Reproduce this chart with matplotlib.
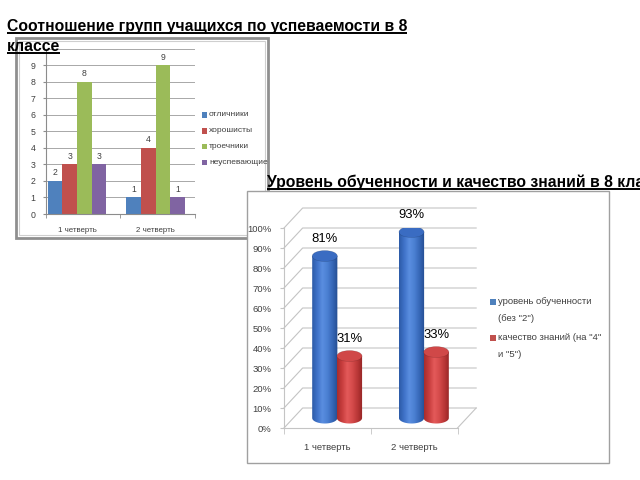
import numpy as np
import matplotlib
matplotlib.use('Agg')
import matplotlib.pyplot as plt
from matplotlib.patches import Rectangle, Ellipse, PathPatch
from matplotlib.path import Path
from matplotlib.colors import LinearSegmentedColormap
from matplotlib import font_manager

# ---------------- data ----------------
title1_lines = ['Соотношение групп учащихся по успеваемости в 8', 'классе']
title2 = 'Уровень обученности и качество знаний в 8 класса'

quarters = ['1 четверть', '2 четверть']
groups1 = ['отличники', 'хорошисты', 'троечники', 'неуспевающие']
otlichniki = [2, 1]
horoshisty = [3, 4]
troechniki = [8, 9]
neuspevayushchie = [3, 1]
yticks1 = [0, 1, 2, 3, 4, 5, 6, 7, 8, 9]

series2 = ['уровень обученности\n(без "2")', 'качество знаний (на "4"\nи "5")']
obuchennost = [81, 93]
kachestvo = [31, 33]
yticks2 = [0, 10, 20, 30, 40, 50, 60, 70, 80, 90, 100]

# ---------------- setup ----------------
names = {f.name for f in font_manager.fontManager.ttflist}
NARROW = 'Liberation Sans Narrow' if 'Liberation Sans Narrow' in names else 'Liberation Sans'
SC = 1.0 if NARROW == 'Liberation Sans Narrow' else 0.85
plt.rcParams['font.family'] = [NARROW, 'DejaVu Sans']

W, H = 640, 480
fig = plt.figure(figsize=(6.4, 4.8), dpi=100)
fig.patch.set_facecolor('white')


def px_axes(x0, y0, x1, y1, z):
    return fig.add_axes([x0 / W, 1 - y1 / H, (x1 - x0) / W, (y1 - y0) / H], zorder=z)


def overlay(z):
    a = fig.add_axes([0, 0, 1, 1], zorder=z)
    a.set_xlim(0, W)
    a.set_ylim(H, 0)
    a.axis('off')
    a.patch.set_visible(False)
    return a

# ---------------- chart 1 ----------------
ovA = overlay(0)
ovA.add_patch(Rectangle((16, 38), 252, 200, fill=False, ec='#8f8f8f', lw=2.0))
ovA.add_patch(Rectangle((19, 41), 246, 194, fill=False, ec='#cfcfcf', lw=0.8))

ax1 = px_axes(46, 48.5, 195, 214, 1)
ax1.patch.set_visible(False)
cols1 = ['#4F81BD', '#C0504D', '#9BBB59', '#8064A2']
data1 = [otlichniki, horoshisty, troechniki, neuspevayushchie]
x = np.arange(len(quarters))
w = 0.185
for i, (vals, c) in enumerate(zip(data1, cols1)):
    bars = ax1.bar(x + (i - 1.5) * w, vals, w, color=c, edgecolor='none', zorder=2)
    ax1.bar_label(bars, padding=2.5, fontsize=6.2, color='#404040')
ax1.set_xlim(-0.395, 1.503)
ax1.set_ylim(0, 10)
ax1.set_yticks(yticks1 + [10])
ax1.set_yticklabels([str(v) for v in yticks1] + [''])
ax1.grid(axis='y', color='#a8a8a8', lw=0.7)
ax1.set_axisbelow(True)
for s in ['top', 'right']:
    ax1.spines[s].set_visible(False)
for s in ['left', 'bottom']:
    ax1.spines[s].set_color('#8c8c8c')
    ax1.spines[s].set_linewidth(0.8)
ax1.tick_params(axis='y', length=2.5, color='#8c8c8c', labelsize=6.3, labelcolor='#404040', pad=5)
ax1.set_xticks(x)
ax1.set_xticklabels(quarters)
ax1.tick_params(axis='x', which='major', length=0, labelsize=5.7, labelcolor='#404040', pad=9)
ax1.set_xticks([-0.395, 0.55, 1.503], minor=True)
ax1.tick_params(axis='x', which='minor', length=3, color='#8c8c8c')

# legend chart 1
for k, (lab, c) in enumerate(zip(groups1, cols1)):
    yy = 115 + k * 15.8
    ovA.add_patch(Rectangle((201.5, yy - 2.7), 5.4, 5.4, fc=c, ec='none'))
    ovA.text(209, yy, lab, fontsize=6.0, color='#404040', va='center', ha='left')

# ---------------- chart 2 ----------------
ovB = overlay(2)
ovB.add_patch(Rectangle((247, 191), 362, 272, fc='white', ec='#a0a0a0', lw=1.0))

ax2 = px_axes(284, 228, 457.5, 428, 3)
ax2.patch.set_visible(False)
ax2.set_xlim(0, 2)
ax2.set_ylim(0, 100)
gridc = '#c4c4c4'
dx, dy = 0.215, 10.0
for v in yticks2:
    ax2.plot([0, dx, 2 + dx], [v, v + dy, v + dy], color=gridc, lw=0.8, clip_on=False, zorder=1)
ax2.plot([2, 2 + dx], [0, dy], color=gridc, lw=0.8, clip_on=False, zorder=1)
for s in ['top', 'right']:
    ax2.spines[s].set_visible(False)
for s in ['left', 'bottom']:
    ax2.spines[s].set_color(gridc)
    ax2.spines[s].set_linewidth(0.8)
ax2.set_yticks(yticks2)
ax2.set_yticklabels([f'{v}%' for v in yticks2])
ax2.tick_params(axis='y', length=3, color=gridc, labelsize=8 * SC, labelcolor='#404040', pad=6)
ax2.set_xticks([0.5, 1.5])
ax2.set_xticklabels(quarters)
ax2.tick_params(axis='x', which='major', length=0, labelsize=8 * SC, labelcolor='#404040', pad=11)
ax2.set_xticks([0, 1, 2], minor=True)
ax2.tick_params(axis='x', which='minor', length=4, color=gridc)

cmap_blue = LinearSegmentedColormap.from_list(
    'b', ['#2c5aa6', '#3f72c8', '#5a8ee0', '#4a7fd2', '#3566b6', '#244c90'])
cmap_red = LinearSegmentedColormap.from_list(
    'r', ['#a82c2c', '#c83e3e', '#e45a5a', '#d44a4a', '#b83636', '#922424'])
tops = ['#3a6cc2', '#d04848']
cmaps = [cmap_blue, cmap_red]
data2 = [obuchennost, kachestvo]
w2 = 0.29
eh = 5.5
dxh, dyh = dx / 2, dy / 2
grad = np.linspace(0, 1, 256).reshape(1, -1)
for s, (vals, cm, tc) in enumerate(zip(data2, cmaps, tops)):
    for i, v in enumerate(vals):
        xc = i + 0.505 + (s - 0.5) * 0.285 + dxh
        base = dyh
        top = v + dyh
        x0, x1 = xc - w2 / 2, xc + w2 / 2
        t = np.linspace(np.pi, 2 * np.pi, 40)
        pts = [(x0, top)] + [(xc + w2 / 2 * np.cos(tt), base + eh / 2 * np.sin(tt)) for tt in t] + [(x1, top), (x0, top)]
        path = Path(pts, closed=True)
        patch = PathPatch(path, fc='none', ec='none', transform=ax2.transData)
        ax2.add_patch(patch)
        im = ax2.imshow(grad, extent=[x0, x1, base - eh / 2, top], aspect='auto', cmap=cm,
                        zorder=3, interpolation='bilinear')
        im.set_clip_path(patch)
        ax2.add_patch(Ellipse((xc, top), w2, eh, fc=tc, ec='#00000030', lw=0.4, zorder=4))
        ax2.annotate(f'{v}%', (xc, top), xytext=(0, 12.5), textcoords='offset points',
                     ha='center', va='center', fontsize=9.4 * SC / 0.85 if SC < 1 else 10,
                     color='black', zorder=5)
ax2.set_xlim(0, 2)
ax2.set_ylim(0, 100)

# legend chart 2
leg_cols = ['#4f81bd', '#c0504d']
leg_y = [302, 338]
for lab, c, yy in zip(series2, leg_cols, leg_y):
    ovB.add_patch(Rectangle((489.5, yy - 3), 6, 6, fc=c, ec='none'))
    for j, line in enumerate(lab.split('\n')):
        ovB.text(498, yy + j * 16.5, line, fontsize=8 * SC, color='#404040', va='center', ha='left')

# ---------------- titles ----------------
ovC = overlay(5)
tf = dict(fontsize=11.35, fontweight='bold', family='Liberation Sans', color='black', va='baseline', ha='left')
base_y = [31, 51, 186.5]
titles = [ovC.text(7, base_y[0], title1_lines[0], **tf),
          ovC.text(7, base_y[1], title1_lines[1], **tf),
          ovC.text(267, base_y[2], title2, **tf)]
fig.canvas.draw()
r = fig.canvas.get_renderer()
for t, by in zip(titles, base_y):
    bb = t.get_window_extent(r)
    ovC.plot([bb.x0, bb.x1], [by + 2.0, by + 2.0], color='black', lw=1.4, solid_capstyle='butt')

fig.savefig('out.png', dpi=100, facecolor='white')
